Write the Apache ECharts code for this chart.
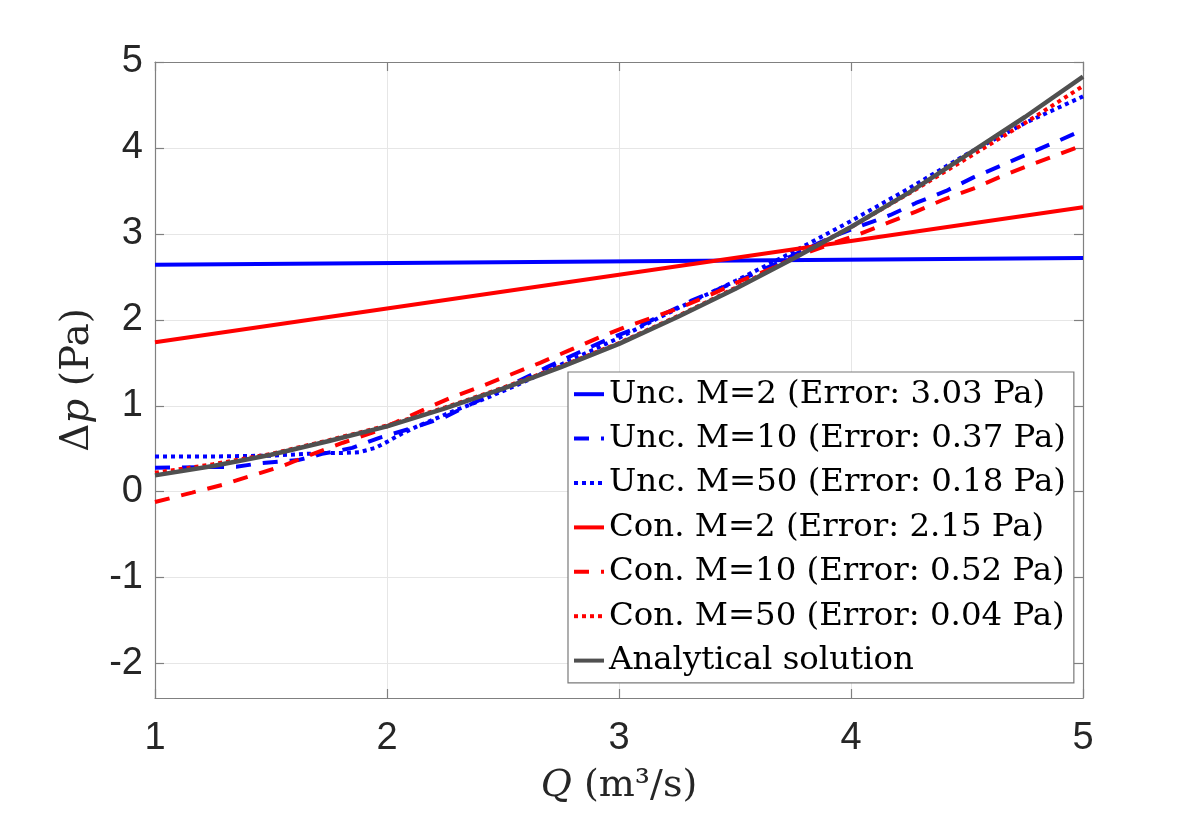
<!DOCTYPE html>
<html>
<head>
<meta charset="utf-8">
<script src="https://cdn.jsdelivr.net/npm/echarts@6/dist/echarts.min.js"></script>
<style>html,body{margin:0;padding:0;background:#fff}#c{width:1196px;height:814px}</style>
</head>
<body>
<div id="c"></div>
<script>
// Tick values
const xTicks = [1, 2, 3, 4, 5];
const yTicks = [-2, -1, 0, 1, 2, 3, 4, 5];

// Series names
const names = [
  'Unc. M=2 (Error: 3.03 Pa)',
  'Unc. M=10 (Error: 0.37 Pa)',
  'Unc. M=50 (Error: 0.18 Pa)',
  'Con. M=2 (Error: 2.15 Pa)',
  'Con. M=10 (Error: 0.52 Pa)',
  'Con. M=50 (Error: 0.04 Pa)',
  'Analytical solution'
];

// Unc. M=2
const qUnc2 = [1, 5];
const pUnc2 = [2.64, 2.72];

// Unc. M=10
const qUnc10 = [1, 1.35, 1.45, 1.62, 1.72, 1.85, 1.97, 2.12, 2.25, 2.37, 2.5, 2.69, 2.81, 2.94, 3.07, 3.18, 3.31, 3.44, 3.56, 3.69, 3.81, 3.94, 4.17, 4.28, 4.41, 4.53, 4.66, 4.77, 4.9, 5];
const pUnc10 = [0.28, 0.29, 0.33, 0.37, 0.44, 0.51, 0.63, 0.75, 0.87, 1.03, 1.20, 1.45, 1.60, 1.76, 1.90, 2.05, 2.22, 2.37, 2.51, 2.67, 2.83, 2.99, 3.22, 3.36, 3.50, 3.66, 3.81, 3.94, 4.09, 4.21];

// Unc. M=50
const qUnc50 = [1, 1.25, 1.5, 1.65, 1.72, 1.8, 1.88, 1.95, 2.0, 2.06, 2.13, 2.27, 2.42, 2.56, 2.75, 3, 3.25, 3.5, 3.75, 4, 4.25, 4.5, 4.75, 5];
const pUnc50 = [0.41, 0.41, 0.42, 0.44, 0.45, 0.45, 0.46, 0.51, 0.58, 0.67, 0.76, 0.92, 1.08, 1.24, 1.48, 1.79, 2.13, 2.45, 2.79, 3.15, 3.53, 3.93, 4.29, 4.60];

// Con. M=2
const qCon2 = [1, 5];
const pCon2 = [1.74, 3.31];

// Con. M=10
const qCon10 = [1, 1.16, 1.29, 1.42, 1.55, 1.67, 1.81, 1.94, 2.04, 2.17, 2.28, 2.41, 2.53, 2.66, 2.79, 2.91, 3.03, 3.16, 3.28, 3.41, 3.53, 3.66, 3.78, 3.91, 4.03, 4.16, 4.28, 4.4, 4.53, 4.64, 4.77, 4.9, 5];
const pCon10 = [-0.12, -0.01, 0.08, 0.19, 0.30, 0.43, 0.57, 0.69, 0.81, 0.97, 1.10, 1.23, 1.36, 1.50, 1.65, 1.79, 1.92, 2.04, 2.16, 2.31, 2.46, 2.60, 2.75, 2.88, 2.99, 3.13, 3.26, 3.40, 3.53, 3.66, 3.80, 3.93, 4.03];

// Con. M=50
const qCon50 = [1, 1.25, 1.5, 1.75, 2, 2.25, 2.5, 2.75, 3, 3.25, 3.5, 3.75, 4, 4.25, 4.5, 4.75, 5];
const pCon50 = [0.22, 0.32, 0.44, 0.60, 0.77, 0.98, 1.21, 1.46, 1.73, 2.04, 2.37, 2.72, 3.08, 3.47, 3.88, 4.29, 4.72];

// Analytical
const qAna = [1, 1.25, 1.5, 1.75, 2, 2.25, 2.5, 2.75, 3, 3.25, 3.5, 3.75, 4, 4.25, 4.5, 4.75, 5];
const pAna = [0.19, 0.30, 0.43, 0.59, 0.76, 0.97, 1.20, 1.45, 1.72, 2.03, 2.36, 2.71, 3.08, 3.48, 3.92, 4.36, 4.83];

const zip = (q, p) => q.map((v, i) => [v, p[i]]);

const BLUE = '#0000ff', RED = '#ff0000', GRAY = '#505050';
const DASH = [15, 12], DOT = [4, 4];
const styles = [
  {c: BLUE, t: 'solid', w: 4},
  {c: BLUE, t: DASH, w: 4},
  {c: BLUE, t: DOT, w: 4},
  {c: RED, t: 'solid', w: 4},
  {c: RED, t: DASH, w: 4},
  {c: RED, t: DOT, w: 4},
  {c: GRAY, t: 'solid', w: 4.5}
];
const datasets = [
  zip(qUnc2, pUnc2), zip(qUnc10, pUnc10), zip(qUnc50, pUnc50),
  zip(qCon2, pCon2), zip(qCon10, pCon10), zip(qCon50, pCon50),
  zip(qAna, pAna)
];

const AX = '#808080', TXT = '#262626', GRID = '#e6e6e6';
const sans = 'Liberation Sans, Arial, sans-serif';
const serif = 'DejaVu Serif, serif';

const chart = echarts.init(document.getElementById('c'), null, {renderer: 'canvas'});
chart.setOption({
  backgroundColor: '#fff',
  animation: false,
  grid: {left: 155, right: 113, top: 62, bottom: 116, containLabel: false},
  xAxis: [{
    type: 'value', min: 1, max: 5, interval: 1, position: 'bottom',
    axisLine: {show: true, onZero: false, lineStyle: {color: AX, width: 1.2}},
    axisTick: {show: true, inside: true, length: 9, lineStyle: {color: AX, width: 1.2}},
    axisLabel: {color: TXT, fontSize: 38, fontFamily: sans, margin: 22},
    splitLine: {show: true, lineStyle: {color: GRID, width: 1}},
    name: '{i|Q} (m³/s)', nameLocation: 'middle', nameGap: 69,
    nameTextStyle: {color: TXT, fontSize: 38, fontFamily: serif,
      rich: {i: {fontStyle: 'italic', fontSize: 38, fontFamily: serif, color: TXT}}}
  }, {
    type: 'value', min: 1, max: 5, interval: 1, position: 'top',
    axisLine: {show: true, onZero: false, lineStyle: {color: AX, width: 1.2}},
    axisTick: {show: true, inside: true, length: 9, lineStyle: {color: AX, width: 1.2}},
    axisLabel: {show: false}, splitLine: {show: false}
  }],
  yAxis: [{
    type: 'value', min: -2.4, max: 5, position: 'left',
    axisLine: {show: true, onZero: false, lineStyle: {color: AX, width: 1.2}},
    axisTick: {show: true, inside: true, length: 9, customValues: yTicks, lineStyle: {color: AX, width: 1.2}},
    axisLabel: {color: TXT, fontSize: 38, fontFamily: sans, margin: 12, customValues: yTicks},
    splitLine: {show: true, lineStyle: {color: GRID, width: 1}},
    name: 'Δ{i|p} (Pa)', nameLocation: 'middle', nameGap: 58,
    nameTextStyle: {color: TXT, fontSize: 39, fontFamily: serif,
      rich: {i: {fontStyle: 'italic', fontSize: 39, fontFamily: serif, color: TXT}}}
  }, {
    type: 'value', min: -2.4, max: 5, position: 'right',
    axisLine: {show: true, onZero: false, lineStyle: {color: AX, width: 1.2}},
    axisTick: {show: true, inside: true, length: 9, customValues: yTicks, lineStyle: {color: AX, width: 1.2}},
    axisLabel: {show: false}, splitLine: {show: false}
  }],
  legend: {
    orient: 'vertical', left: 568, top: 372,
    data: names,
    itemWidth: 30, itemHeight: 14, itemGap: 0,
    padding: [0, 8, 0, 4],
    backgroundColor: '#fff', borderColor: '#7a7a7a', borderWidth: 1.2,
    itemStyle: {opacity: 0},
    lineStyle: {width: 4},
    textStyle: {color: '#000', fontSize: 32.4, fontFamily: serif, lineHeight: 44.4},
    selectedMode: false
  },
  series: names.map((n, i) => ({
    name: n, type: 'line', xAxisIndex: 0, yAxisIndex: 0,
    data: datasets[i], symbol: 'none', showSymbol: false, smooth: false,
    lineStyle: {color: styles[i].c, type: styles[i].t, width: styles[i].w, cap: 'butt'},
    itemStyle: {color: styles[i].c},
    z: 2 + i
  }))
});
</script>
</body>
</html>
